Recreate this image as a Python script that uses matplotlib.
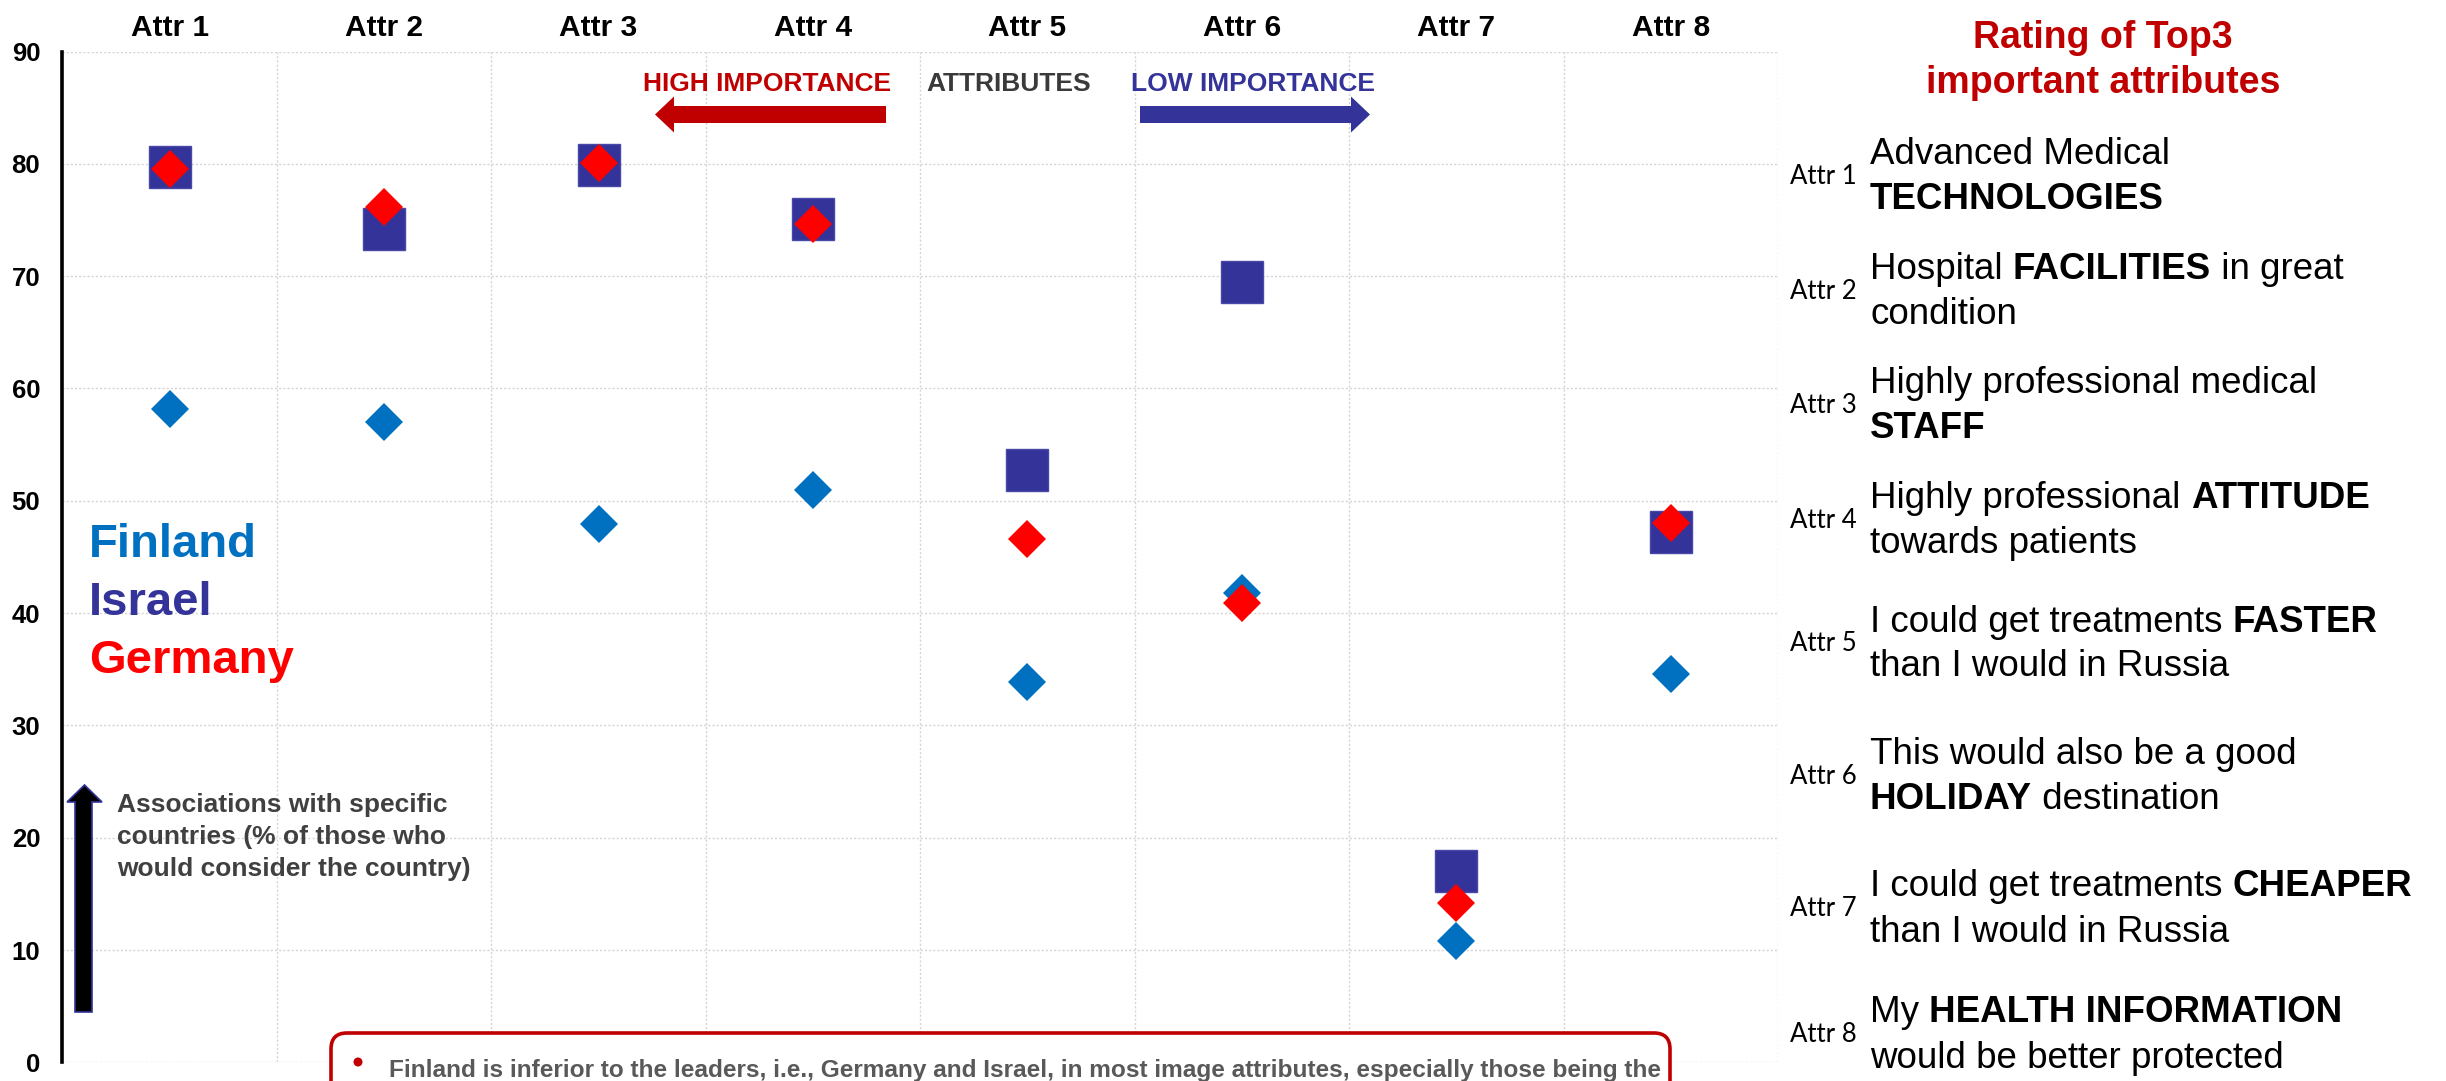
import matplotlib
matplotlib.use("Agg")
import matplotlib.pyplot as plt
from matplotlib.patches import Polygon, FancyBboxPatch, Circle
from matplotlib.transforms import IdentityTransform

# ---- data -------------------------------------------------------------
attributes = ["Attr 1", "Attr 2", "Attr 3", "Attr 4",
              "Attr 5", "Attr 6", "Attr 7", "Attr 8"]
finland = [58.2, 57.0, 47.9, 51.0, 33.9, 41.8, 10.8, 34.6]
israel = [79.7, 74.2, 79.9, 75.1, 52.7, 69.5, 17.0, 47.2]
germany = [79.5, 76.2, 80.1, 74.6, 46.6, 40.9, 14.2, 48.0]
y_ticks = [0, 10, 20, 30, 40, 50, 60, 70, 80, 90]

# attribute descriptions: (text, bold) segments for two lines each
descriptions = [
    ([("Advanced Medical", False)], [("TECHNOLOGIES", True)]),
    ([("Hospital ", False), ("FACILITIES", True), (" in great", False)],
     [("condition", False)]),
    ([("Highly professional medical", False)], [("STAFF", True)]),
    ([("Highly professional ", False), ("ATTITUDE", True)],
     [("towards patients", False)]),
    ([("I could get treatments ", False), ("FASTER", True)],
     [("than I would in Russia", False)]),
    ([("This would also be a good", False)],
     [("HOLIDAY", True), (" destination", False)]),
    ([("I could get treatments ", False), ("CHEAPER", True)],
     [("than I would in Russia", False)]),
    ([("My ", False), ("HEALTH INFORMATION", True)],
     [("would be better protected", False)]),
]

FIN_C = "#0070C0"
ISR_C = "#333399"
GER_C = "#FF0000"
DARK_RED = "#C00000"

W, H = 2446, 1081
plt.rcParams["font.family"] = ["Liberation Sans", "DejaVu Sans"]

fig = plt.figure(figsize=(W / 100, H / 100), dpi=100)

# plot area in pixel units (from top-left)
left, right, top, bottom = 62.4, 1778.0, 51.5, 1062.4
ax = fig.add_axes([left / W, 1 - bottom / H, (right - left) / W, (bottom - top) / H])

x = list(range(1, len(attributes) + 1))
ax.plot(x, israel, "s", ms=30, color=ISR_C, mec="#4848a8", mew=1.0, zorder=3, clip_on=False)
ax.plot(x, finland, "D", ms=19.5, color=FIN_C, mew=0, zorder=4, clip_on=False)
ax.plot(x, germany, "D", ms=19.5, color=GER_C, mew=0, zorder=5, clip_on=False)

ax.set_xlim(0.5, len(attributes) + 0.5)
ax.set_ylim(0, 90)
ax.set_xticks(x)
ax.set_xticklabels(attributes, fontsize=21.5, fontweight="bold")
ax.xaxis.tick_top()
ax.set_xticks([i + 0.5 for i in x], minor=True)
ax.set_yticks(y_ticks)
ax.set_yticklabels([str(v) for v in y_ticks], fontsize=18.5, fontweight="bold")
ax.tick_params(axis="both", which="both", length=0)
ax.tick_params(axis="x", which="major", pad=7)
ax.tick_params(axis="y", pad=16)

ax.grid(axis="y", which="major", ls=(0, (1.5, 1.5)), color="#d4d4d4", lw=1.0, zorder=0)
ax.grid(axis="x", which="minor", ls=(0, (1.5, 1.5)), color="#d4d4d4", lw=1.0, zorder=0)
for side in ["top", "right", "bottom"]:
    ax.spines[side].set_visible(False)
ax.spines["left"].set_linewidth(2.6)
ax.spines["left"].set_color("black")
ax.set_axisbelow(True)

ident = IdentityTransform()


def P(px, py):
    """pixel coords measured from the top-left corner -> display coords"""
    return (px, H - py)


def ftext(px, py, s, **kw):
    return fig.text(px / W, 1 - py / H, s, **kw)


# importance arrows
def harrow(tail, tip, yc, color):
    sh, hh = 8.5, 18.0
    hl = 19.0 if tip > tail else -19.0
    base = tip - hl
    pts = [P(tail, yc - sh), P(base, yc - sh), P(base, yc - hh), P(tip, yc),
           P(base, yc + hh), P(base, yc + sh), P(tail, yc + sh)]
    fig.add_artist(Polygon(pts, closed=True, transform=ident, fc=color, ec="none"))


harrow(886, 655, 114.5, DARK_RED)
harrow(1140, 1370, 114.5, ISR_C)

ftext(643, 91, "HIGH IMPORTANCE", fontsize=19, fontweight="bold", color=DARK_RED, va="baseline")
ftext(926, 91, "ATTRIBUTES", fontsize=19, fontweight="bold", color="#3a3a3a", va="baseline")
ftext(1131, 91, "LOW IMPORTANCE", fontsize=19, fontweight="bold", color=ISR_C, va="baseline")

# country legend
ftext(89, 557, "Finland", fontsize=34, fontweight="bold", color=FIN_C, va="baseline")
ftext(89, 615, "Israel", fontsize=34, fontweight="bold", color=ISR_C, va="baseline")
ftext(89, 673, "Germany", fontsize=34, fontweight="bold", color=GER_C, va="baseline")

# vertical arrow + axis note
va_pts = [P(75, 1012), P(75, 802), P(67, 802), P(84.5, 785), P(102, 802),
          P(92, 802), P(92, 1012)]
fig.add_artist(Polygon(va_pts, closed=True, transform=ident, fc="black",
                       ec=ISR_C, lw=1.2))
for i, line in enumerate(["Associations with specific",
                          "countries (% of those who",
                          "would consider the country)"]):
    ftext(117, 812 + 32 * i, line, fontsize=19, fontweight="bold",
          color="#404040", va="baseline")

# right-hand panel
ftext(2103, 48, "Rating of Top3", fontsize=27, fontweight="bold", color=DARK_RED,
      ha="center", va="baseline")
ftext(2103, 93, "important attributes", fontsize=27, fontweight="bold", color=DARK_RED,
      ha="center", va="baseline")

fig.canvas.draw()
renderer = fig.canvas.get_renderer()


def seg_width(s, **kw):
    t1 = fig.text(0, 0, "|" + s + "|", **kw)
    t2 = fig.text(0, 0, "||", **kw)
    w = t1.get_window_extent(renderer).width - t2.get_window_extent(renderer).width
    t1.remove()
    t2.remove()
    return w


label_centers = [174.6, 289.7, 403.7, 518.5, 642.0, 774.5, 907.0, 1033.0]
desc_size = 26.5
for lab, yc, (l1, l2) in zip(attributes, label_centers, descriptions):
    ftext(1790, yc + 9, lab, fontsize=18.5, family=["Lato", "DejaVu Sans"],
          color="black", va="baseline")
    for line, base in ((l1, yc - 10.5), (l2, yc + 34.5)):
        cx = 1870.0
        for s, b in line:
            kw = dict(fontsize=desc_size, fontweight="bold" if b else "normal", color="black")
            ftext(cx, base, s, va="baseline", **kw)
            cx += seg_width(s, **kw)

# callout box at the bottom
box = FancyBboxPatch(P(331, 1110), 1670 - 331, 1110 - 1033,
                     boxstyle="round,pad=0,rounding_size=16",
                     transform=ident, fc="white", ec=DARK_RED, lw=2.6, zorder=10)
fig.add_artist(box)
fig.add_artist(Circle(P(358, 1062), 4.5, transform=ident, fc=DARK_RED, ec="none", zorder=11))
t = ftext(389, 1077,
          "Finland is inferior to the leaders, i.e., Germany and Israel, in most image "
          "attributes, especially those being the",
          fontsize=17.6, fontweight="bold", color="#595959", va="baseline")
t.set_zorder(12)

fig.savefig("out.png", dpi=100)
